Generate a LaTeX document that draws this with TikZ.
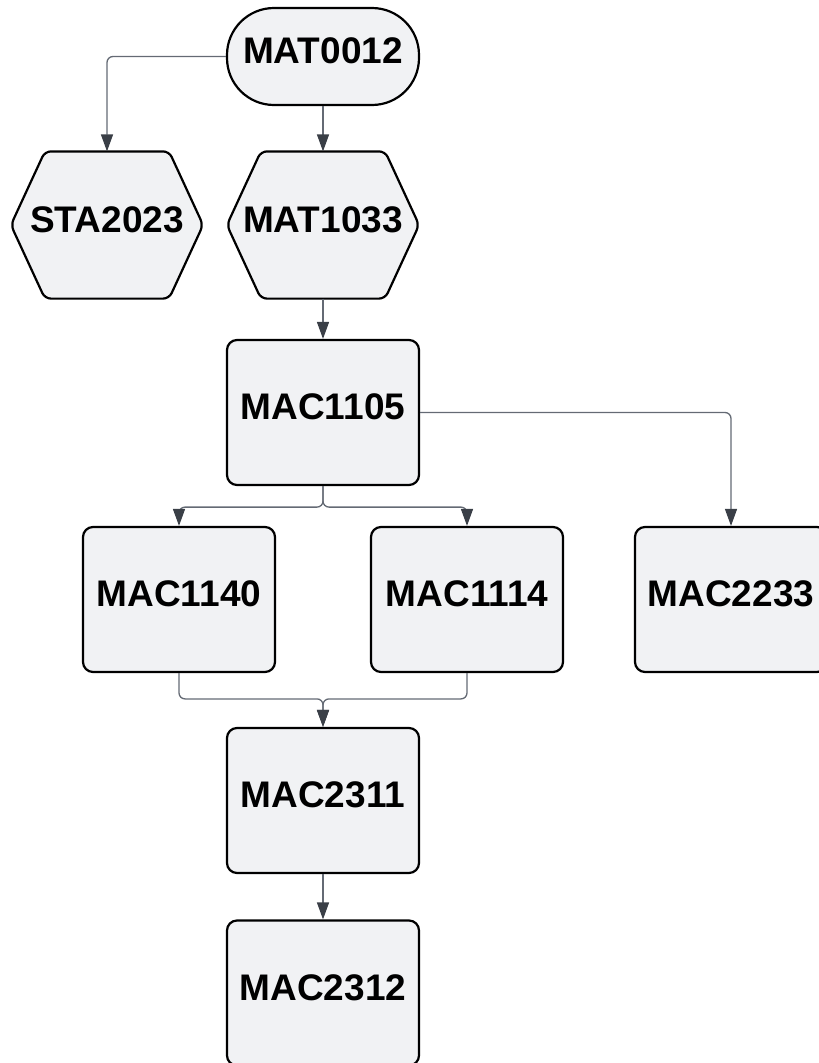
\documentclass[tikz,border=0pt]{standalone}
\usepackage{fontspec}
\setmainfont{Liberation Sans}
\usetikzlibrary{arrows.meta,backgrounds}
\definecolor{boxfill}{RGB}{241,242,244}
\definecolor{wiregray}{RGB}{100,106,116}
\definecolor{tipgray}{RGB}{58,63,71}
\tikzset{
  course/.style={draw=black, line width=2.2pt, fill=boxfill, rounded corners=10pt,
    minimum width=192pt, minimum height=145pt, text height=26pt, text depth=12pt,
    font=\fontsize{37}{42}\selectfont\bfseries},
  start/.style={course, rounded corners=47pt, minimum height=97pt},
  hexnode/.style={course, draw=none, fill=none, minimum width=190pt},
  hexline/.style={draw=black, line width=2.2pt, fill=boxfill, rounded corners=6pt},
  wire/.style={draw=wiregray, line width=1.3pt, rounded corners=6pt,
    -{Triangle[length=17pt,width=12pt,color=tipgray]}}
}
\begin{document}
\begin{tikzpicture}[x=1pt,y=1pt]
  \useasboundingbox (0,0) rectangle (819,-1063);
  %courses
  \node[start] (m0012) at (323,-56.5) {MAT0012};
  \node[hexnode] (sta) at (107,-225) {STA2023};
  \node[hexnode] (mat) at (323,-225) {MAT1033};
  \node[course] (m1105) at (323,-412.5) {MAC1105};
  \node[course] (m1140) at (179,-599.5) {MAC1140};
  \node[course] (m1114) at (467,-599.5) {MAC1114};
  \node[course] (m2233) at (731,-599.5) {MAC2233};
  \node[course] (m2311) at (323,-800.5) {MAC2311};
  \node[course] (m2312) at (323,-993) {MAC2312};
  %hexagons behind the labels
  \begin{scope}[on background layer]
    \foreach \n in {sta,mat}
      \path[hexline] (\n.west) -- ([xshift=34pt]\n.north west) -- ([xshift=-34pt]\n.north east)
        -- (\n.east) -- ([xshift=-34pt]\n.south east) -- ([xshift=34pt]\n.south west) -- cycle;
  \end{scope}
  %split and join points
  \coordinate (split) at ([yshift=-21pt]m1105.south);
  \coordinate (join) at ([yshift=28pt]m2311.north);
  %prerequisites
  \draw[wire] (m0012.west) -| (sta.north);
  \draw[wire] (m0012.south) -- (mat.north);
  \draw[wire] (mat.south) -- (m1105.north);
  \draw[wire] (m1105.east) -| (m2233.north);
  \draw[wire] (m1105.south) -- (split) -| (m1140.north);
  \draw[wire] (m1105.south) -- (split) -| (m1114.north);
  \draw[wire] (m1140.south) |- (join) -- (m2311.north);
  \draw[wire] (m1114.south) |- (join) -- (m2311.north);
  \draw[wire] (m2311.south) -- (m2312.north);
\end{tikzpicture}
\end{document}
